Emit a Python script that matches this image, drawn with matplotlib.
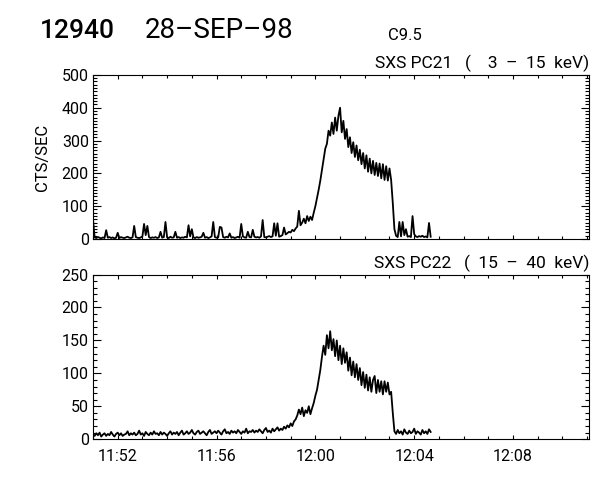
import numpy as np
import pandas as pd
import matplotlib
matplotlib.use('Agg')
import matplotlib.pyplot as plt
import matplotlib.dates as mdates
from matplotlib.ticker import MultipleLocator

plt.rcParams['font.family'] = ['Roboto', 'DejaVu Sans']

start = pd.Timestamp('1998-09-28 11:51:00')  # first sample
step = 4  # seconds between samples

# SXS PC21 (3 - 15 keV), counts/sec
pc21 = [60, 5, 3, 6, 4, 2, 5, 3, 27, 4, 6, 3, 5, 2, 4, 19, 3, 6, 4, 3,
        5, 7, 4, 3, 5, 40, 6, 4, 3, 5, 8, 46, 12, 40, 6, 3, 5, 4, 6, 3,
        5, 22, 4, 6, 52, 5, 3, 7, 4, 5, 22, 4, 6, 3, 5, 4, 7, 5, 42, 8,
        30, 5, 3, 6, 4, 5, 7, 19, 4, 6, 3, 5, 8, 52, 6, 4, 5, 37, 35, 6,
        4, 7, 5, 17, 4, 6, 3, 5, 7, 4, 46, 8, 5, 4, 22, 6, 5, 28, 7, 5,
        6, 4, 8, 58, 6, 5, 7, 9, 6, 8, 48, 10, 48, 7, 9, 12, 35, 14, 18, 22,
        20, 28, 24, 32, 38, 86, 42, 50, 62, 48, 70, 55, 68, 58, 80, 100, 125, 150, 178, 210,
        240, 275, 290, 330, 315, 355, 320, 370, 330, 375, 400, 325, 360, 305, 335, 280, 310, 262, 295, 250,
        285, 240, 272, 228, 262, 215, 255, 205, 245, 200, 238, 195, 232, 192, 230, 185, 228, 180, 222, 178,
        215, 180, 110, 30, 10, 6, 52, 8, 52, 12, 30, 7, 9, 6, 70, 15, 8, 6, 9, 7,
        10, 6, 8, 5, 49, 7]

# SXS PC22 (15 - 40 keV), counts/sec
pc22 = [8, 5, 9, 6, 10, 4, 7, 9, 5, 8, 6, 11, 7, 4, 8, 10, 6, 9, 5, 7,
        8, 12, 6, 9, 7, 10, 6, 8, 13, 7, 9, 5, 11, 8, 6, 10, 7, 12, 8, 9,
        6, 11, 7, 10, 8, 5, 9, 12, 7, 10, 8, 11, 6, 10, 13, 7, 9, 12, 8, 10,
        14, 9, 7, 11, 13, 8, 10, 12, 9, 6, 11, 14, 8, 10, 12, 9, 13, 10, 7, 12,
        15, 9, 11, 8, 13, 10, 12, 9, 14, 11, 8, 12, 10, 16, 9, 12, 11, 14, 10, 13,
        11, 15, 12, 9, 14, 17, 11, 13, 10, 16, 12, 15, 18, 13, 16, 14, 19, 16, 21, 18,
        24, 20, 27, 30, 36, 45, 38, 48, 35, 44, 40, 50, 38, 47, 55, 66, 75, 90, 105, 125,
        142, 128, 158, 138, 164, 135, 152, 126, 150, 120, 142, 114, 138, 116, 132, 104, 124, 97, 118, 94,
        114, 90, 108, 82, 102, 78, 98, 74, 94, 72, 90, 96, 70, 90, 72, 88, 68, 88, 72, 86,
        68, 72, 40, 12, 8, 14, 9, 12, 7, 15, 10, 8, 13, 9, 11, 16, 8, 12, 10, 7,
        14, 9, 12, 8, 15, 11]

times = start + pd.to_timedelta(np.arange(len(pc21)) * step, unit='s')
t0 = start
t1 = pd.Timestamp('1998-09-28 12:11:05')

fig = plt.figure(figsize=(6, 4.8), dpi=100)
ax1 = fig.add_axes([0.155, 0.502, 0.827, 0.342])
ax2 = fig.add_axes([0.155, 0.085, 0.827, 0.343])


def style(ax, ymax, ymajor):
    ax.set_xlim(t0, t1)
    ax.set_ylim(0, ymax)
    ax.xaxis.set_major_locator(mdates.MinuteLocator(byminute=range(0, 60, 4)))
    ax.xaxis.set_minor_locator(mdates.MinuteLocator())
    ax.xaxis.set_major_formatter(mdates.DateFormatter('%H:%M'))
    ax.yaxis.set_major_locator(MultipleLocator(ymajor))
    ax.yaxis.set_minor_locator(MultipleLocator(10))
    ax.tick_params(which='both', direction='in', top=True, right=True,
                   width=0.8, labelsize=11.5, pad=3)
    ax.tick_params(axis='y', which='major', length=6)
    ax.tick_params(axis='y', which='minor', length=3)
    ax.tick_params(axis='x', which='major', length=3)
    ax.tick_params(axis='x', which='minor', length=2.5)
    ax.tick_params(axis='x', pad=7)
    for s in ax.spines.values():
        s.set_linewidth(0.8)


ax1.plot(times, pc21, color='black', lw=1.3)
style(ax1, 500, 100)
ax1.tick_params(labelbottom=False)
ax1.text(1.0, 1.015, 'SXS PC21   (    3  –  15  keV)', transform=ax1.transAxes,
         ha='right', va='bottom', fontsize=12.5)

ax2.plot(times, pc22, color='black', lw=1.3)
style(ax2, 250, 50)
ax2.text(1.0, 1.015, 'SXS PC22   (  15  –  40  keV)', transform=ax2.transAxes,
         ha='right', va='bottom', fontsize=12.5)

fig.text(42 / 600, 1 - 157 / 480, 'CTS/SEC', rotation=90, ha='center',
         va='center', fontsize=12)
fig.text(40 / 600, 1 - 31 / 480, '12940', fontsize=19, fontweight='medium', va='center')
fig.text(145 / 600, 1 - 31 / 480, '28–SEP–98', fontsize=20, va='center')
fig.text(388 / 600, 1 - 35 / 480, 'C9.5', fontsize=12, va='center')

fig.savefig('out.png', dpi=100)
